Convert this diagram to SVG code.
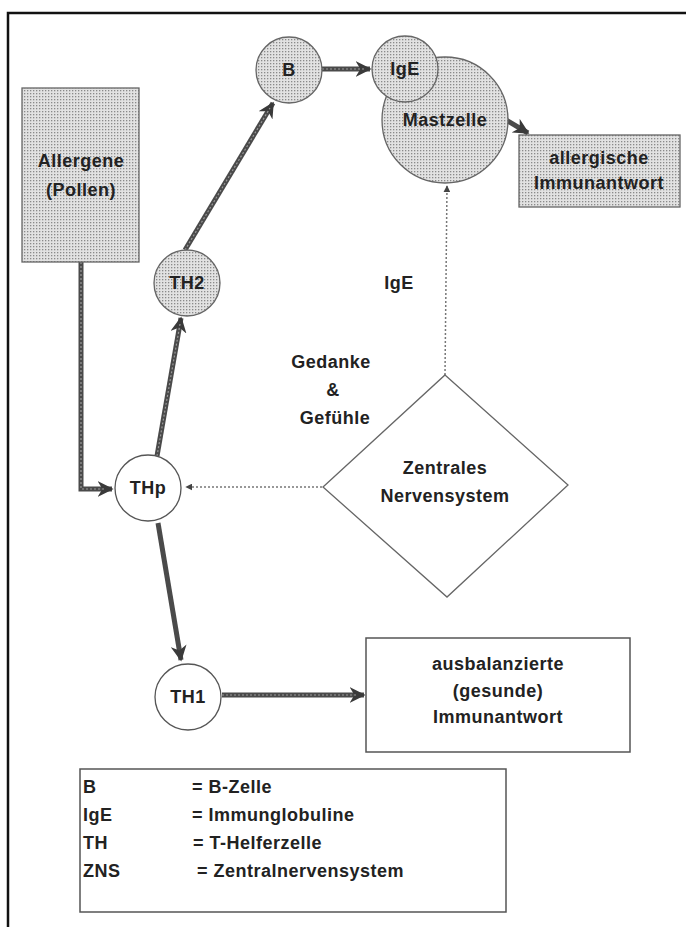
<svg xmlns="http://www.w3.org/2000/svg" width="686" height="927" viewBox="0 0 686 927">
<style>
text{font-family:"Liberation Sans",Arial,sans-serif;font-weight:bold;font-size:18px;letter-spacing:0.5px;fill:#222;text-anchor:middle}
.lg{text-anchor:start}
.gray{fill:url(#dots);stroke:#666;stroke-width:1.3}
.white{fill:#fff;stroke:#555;stroke-width:1.3}
.thick{fill:none;stroke:#4a4a4a;stroke-width:5}
.tex{fill:none;stroke:#9a9a9a;stroke-width:1.2;stroke-dasharray:2 2}
.dot{fill:none;stroke:#777;stroke-width:1.5;stroke-dasharray:2 2}
</style>
<defs>
<pattern id="dots" width="3" height="3" patternUnits="userSpaceOnUse">
<rect width="3" height="3" fill="#e2e2e2"/>
<rect width="1.3" height="1.3" fill="#8a8a8a"/>
</pattern>
<marker id="ah" viewBox="0 0 10 10" refX="9" refY="5" markerWidth="3.2" markerHeight="3.2" orient="auto" markerUnits="strokeWidth">
<path d="M0,0 L10,5 L0,10 L3,5 Z" fill="#3a3a3a"/>
</marker>
<marker id="ahs" viewBox="0 0 10 10" refX="9" refY="5" markerWidth="7" markerHeight="7" orient="auto" markerUnits="userSpaceOnUse">
<path d="M0,5 L10,0 L10,10 Z" fill="#444" transform="rotate(180 5 5)"/>
</marker>
</defs>
<rect width="686" height="927" fill="#fff"/>
<g id="frame">
<path d="M8,927 V13 H686" fill="none" stroke="#111" stroke-width="2.5"/>
</g>
<g id="connectors">
<path class="thick" d="M81,262 V489 H112" marker-end="url(#ah)"/>
<path class="tex" d="M81,262 V489 H106"/>
<path class="thick" d="M157,456 L181,318" marker-end="url(#ah)"/>
<path class="tex" d="M157,456 L180,324"/>
<path class="thick" d="M185,250 L273,103" marker-end="url(#ah)"/>
<path class="tex" d="M185,250 L270,108"/>
<path class="thick" d="M322,69 L370,69" marker-end="url(#ah)"/>
<path class="tex" d="M322,69 L364,69"/>
<path class="thick" d="M506,120 L528,133" marker-end="url(#ah)"/>
<path class="thick" d="M158,523 L181,660" marker-end="url(#ah)"/>
<path class="thick" d="M222,695 L364,695" marker-end="url(#ah)"/>
<path class="tex" d="M222,695 L356,695"/>
<path class="dot" d="M322,487 L186,487" marker-end="url(#ahs)"/>
<path class="dot" d="M445,375 L447,186" marker-end="url(#ahs)"/>
</g>
<g id="allergene">
<rect class="gray" x="22" y="88" width="117" height="174"/>
<text x="81" y="167">Allergene</text>
<text x="81" y="196">(Pollen)</text>
</g>
<g id="th2">
<circle class="gray" cx="187" cy="283" r="33"/>
<text x="187" y="289">TH2</text>
</g>
<g id="b">
<circle class="gray" cx="289" cy="70" r="33"/>
<text x="289" y="76">B</text>
</g>
<g id="mastzelle">
<circle class="gray" cx="445" cy="120" r="63"/>
<text x="445" y="126">Mastzelle</text>
</g>
<g id="ige">
<circle class="gray" cx="405" cy="69" r="33"/>
<text x="405" y="75">IgE</text>
</g>
<g id="allergisch">
<rect class="gray" x="519" y="135" width="161" height="72"/>
<text x="599" y="164">allergische</text>
<text x="599" y="189">Immunantwort</text>
</g>
<g id="ige-label">
<text x="399" y="289">IgE</text>
</g>
<g id="gedanke">
<text x="331" y="368">Gedanke</text>
<text x="333" y="396">&amp;</text>
<text x="335" y="424">Gefühle</text>
</g>
<g id="zns">
<polygon points="445,375 568,485 447,597 323,487" fill="#fff" stroke="#666" stroke-width="1.3"/>
<text x="445" y="474">Zentrales</text>
<text x="445" y="502">Nervensystem</text>
</g>
<g id="thp">
<circle class="white" cx="148" cy="488" r="33"/>
<text x="148" y="494">THp</text>
</g>
<g id="th1">
<circle class="white" cx="188" cy="697" r="33"/>
<text x="188" y="703">TH1</text>
</g>
<g id="ausbalanziert">
<rect x="366" y="638" width="264" height="114" fill="#fff" stroke="#555" stroke-width="1.5"/>
<text x="498" y="670">ausbalanzierte</text>
<text x="498" y="697">(gesunde)</text>
<text x="498" y="723">Immunantwort</text>
</g>
<g id="legend">
<rect x="80" y="769" width="426" height="143" fill="#fff" stroke="#555" stroke-width="1.5"/>
<text class="lg" x="83" y="793">B</text>
<text class="lg" x="83" y="821">IgE</text>
<text class="lg" x="83" y="849">TH</text>
<text class="lg" x="83" y="877">ZNS</text>
<text class="lg" x="192" y="793">= B-Zelle</text>
<text class="lg" x="192" y="821">= Immunglobuline</text>
<text class="lg" x="193" y="849">= T-Helferzelle</text>
<text class="lg" x="197" y="877">= Zentralnervensystem</text>
</g>
</svg>
